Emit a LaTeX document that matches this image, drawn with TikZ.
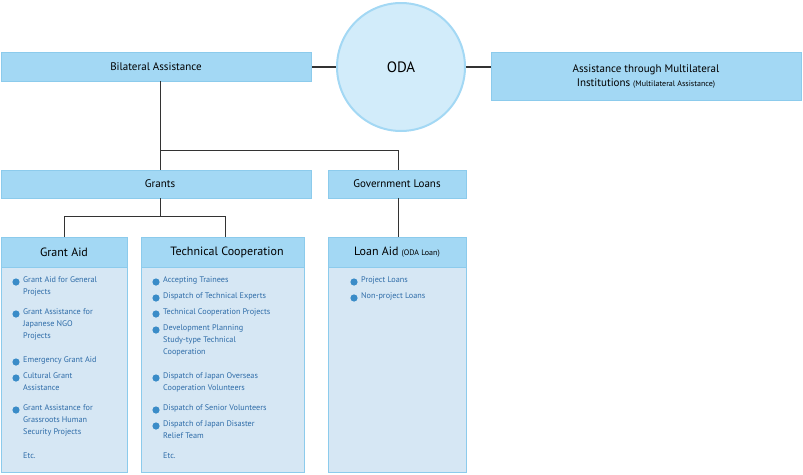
\documentclass[tikz,border=0pt]{standalone}
\usepackage{fontspec}
\setmainfont{PT Sans}
\definecolor{hdr}{HTML}{A3D8F4}
\definecolor{hdrb}{HTML}{8CCBEC}
\definecolor{body}{HTML}{D6E7F4}
\definecolor{circ}{HTML}{D2ECFA}
\definecolor{txt}{HTML}{2E6CA8}
\definecolor{dot}{HTML}{3A8CC8}
\definecolor{ln}{HTML}{333333}
\begin{document}
\begin{tikzpicture}[x=1pt,y=-1pt,
  hbox/.style={draw=hdrb,fill=hdr,line width=0.8pt},
  bbox/.style={draw=hdrb,fill=body,line width=0.8pt},
  conn/.style={draw=ln,line width=1pt},
  item/.style={anchor=north west,inner sep=0pt,font=\fontsize{8.2}{12}\selectfont,text=txt,align=left}]
\useasboundingbox (0,0) rectangle (803,474);
% top
\draw[conn,line width=2pt] (311,67) -- (337,67);
\draw[conn,line width=2pt] (466,67) -- (491,67);
\node[circle,draw=hdr,fill=circ,line width=2pt,minimum size=128pt] (oda) at (401,67) {};
\node[font=\fontsize{15}{18}\selectfont] at (oda) {ODA};
\draw[hbox] (1,52) rectangle (311,81);
\node[font=\fontsize{11}{13}\selectfont] (bil) at (156,66.5) {Bilateral Assistance};
\draw[hbox] (491,52) rectangle (801,100);
\node[font=\fontsize{11}{14}\selectfont,align=center] (mul) at (646,76) {Assistance through Multilateral\\Institutions {\fontsize{8}{10}\selectfont(Multilateral Assistance)}};
% connectors
\coordinate (b1) at (160,81);
\coordinate (j1) at (160,150);
\coordinate (j2) at (398,150);
\draw[conn] (b1) -- (j1) -- (j2) -- (398,170);
\draw[conn] (j1) -- (160,170);
% second level
\draw[hbox] (1,170) rectangle (311,198);
\node[font=\fontsize{11}{13}\selectfont] (gr) at (160,184) {Grants};
\draw[hbox] (328,170) rectangle (466,198);
\node[font=\fontsize{11}{13}\selectfont] (gl) at (397,184) {Government Loans};
\coordinate (g1) at (160,198);
\coordinate (g2) at (160,216);
\draw[conn] (g1) -- (g2);
\draw[conn] (64,237) -- (64,216) -- (225,216) -- (225,237);
\draw[conn] (398,198) -- (398,237);
% third level boxes
\foreach \xa/\xb in {1/127,141/304,328/466}{
  \draw[bbox] (\xa,237) rectangle (\xb,472);
  \draw[hbox] (\xa,237) rectangle (\xb,267);
}
\node[font=\fontsize{12}{14}\selectfont] (ga) at (64,252) {Grant Aid};
\node[font=\fontsize{12}{14}\selectfont] (tc) at (227,252) {Technical Cooperation};
\node (la) at (397,252) {\fontsize{12}{14}\selectfont Loan Aid \fontsize{8}{10}\selectfont(ODA Loan)};
% items
\newcommand{\bul}[3]{\fill[dot] (#1+5,#2+5) circle (3.6pt); \node[item] at (#1+12,#2-0.5) {#3};}
\bul{11}{277}{Grant Aid for General\\Projects}
\bul{11}{309}{Grant Assistance for\\Japanese NGO\\Projects}
\bul{11}{357}{Emergency Grant Aid}
\bul{11}{373}{Cultural Grant\\Assistance}
\bul{11}{405}{Grant Assistance for\\Grassroots Human\\Security Projects}
\node[item] at (23,452.5) {Etc.};
\bul{151}{277}{Accepting Trainees}
\bul{151}{293}{Dispatch of Technical Experts}
\bul{151}{309}{Technical Cooperation Projects}
\bul{151}{325}{Development Planning\\Study-type Technical\\Cooperation}
\bul{151}{373}{Dispatch of Japan Overseas\\Cooperation Volunteers}
\bul{151}{405}{Dispatch of Senior Volunteers}
\bul{151}{421}{Dispatch of Japan Disaster\\Relief Team}
\node[item] at (163,452.5) {Etc.};
\bul{349}{277}{Project Loans}
\bul{349}{293}{Non-project Loans}
\end{tikzpicture}
\end{document}
